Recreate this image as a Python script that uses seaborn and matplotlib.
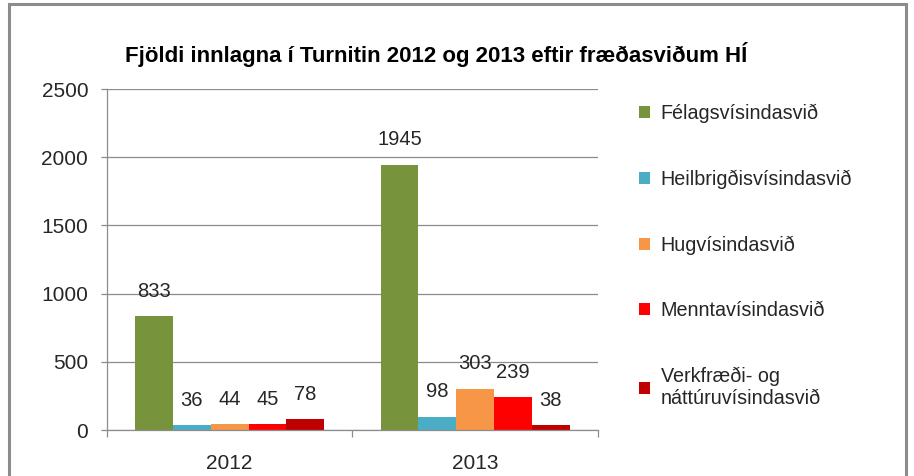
import matplotlib
matplotlib.use("Agg")
import matplotlib.pyplot as plt
import seaborn as sns
import pandas as pd
from matplotlib.patches import Rectangle, Patch

years = ["2012", "2013"]
fields = ["Félagsvísindasvið", "Heilbrigðisvísindasvið", "Hugvísindasvið",
          "Menntavísindasvið", "Verkfræði- og\nnáttúruvísindasvið"]
vals_2012 = [833, 36, 44, 45, 78]
vals_2013 = [1945, 98, 303, 239, 38]
colors = ["#77933C", "#4BACC6", "#F79646", "#FF0000", "#C00000"]
title = "Fjöldi innlagna í Turnitin 2012 og 2013 eftir fræðasviðum HÍ"

rows = []
for f, a, b in zip(fields, vals_2012, vals_2013):
    rows.append({"year": "2012", "field": f, "value": a})
    rows.append({"year": "2013", "field": f, "value": b})
df = pd.DataFrame(rows)

sns.set_style("white")
plt.rcParams["font.family"] = ["Liberation Sans", "DejaVu Sans"]

fig = plt.figure(figsize=(9.14, 4.76), dpi=100)
ax = fig.add_axes([0.117, 0.0966, 0.537, 0.7164])

sns.barplot(data=df, x="year", y="value", hue="field", order=years,
            hue_order=fields, palette=colors, width=0.77, gap=0,
            saturation=1, ax=ax, legend=False, errorbar=None, linewidth=0)

for c in ax.containers:
    ax.bar_label(c, padding=11, fontsize=14.5, color="#262626")

ax.set_ylim(0, 2500)
ax.set_yticks(range(0, 2501, 500))
ax.set_xlim(-0.5, 1.5)
ax.yaxis.grid(True, color="#8C8C8C", linewidth=0.9)
ax.set_axisbelow(True)
ax.set_xlabel("")
ax.set_ylabel("")
for s in ["top", "right"]:
    ax.spines[s].set_visible(False)
for s in ["left", "bottom"]:
    ax.spines[s].set_color("#8C8C8C")
    ax.spines[s].set_linewidth(0.9)
ax.tick_params(axis="y", labelsize=15, labelcolor="#262626", length=4.5, width=0.9,
               direction="out", left=True, pad=9, color="#8C8C8C")
ax.tick_params(axis="x", labelsize=15, labelcolor="#262626", length=0, pad=17)
ax.set_xticks([-0.5, 0.5, 1.5], minor=True)
ax.tick_params(axis="x", which="minor", length=5, width=0.9, color="#8C8C8C",
               bottom=True)

fig.text(0.477, 0.885, title, ha="center", va="center", fontsize=16,
         fontweight="bold", color="black")

handles = [Patch(facecolor=c, edgecolor="none") for c in colors]
leg = fig.legend(handles, fields, loc="upper left", bbox_to_anchor=(0.699, 0.782),
                 frameon=False, fontsize=14.2, handlelength=0.55,
                 handleheight=0.55, handletextpad=0.55, labelspacing=2.36,
                 borderpad=0, borderaxespad=0, labelcolor="#262626")

fig.add_artist(Rectangle((9 / 914, -0.05), (906 - 9) / 914, 1.05 - 4 / 476,
                         transform=fig.transFigure, fill=False,
                         edgecolor="#8C8C8C", linewidth=2.2, clip_on=False))

fig.savefig("out.png", dpi=100)
